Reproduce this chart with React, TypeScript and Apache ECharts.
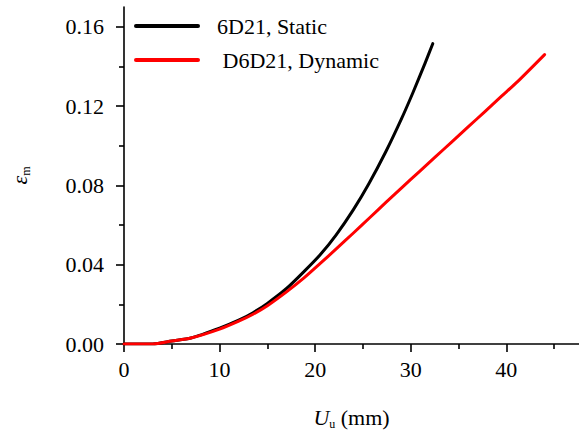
import React, { useEffect, useRef } from "react";
import * as echarts from "echarts";

const seriesNames = ["6D21, Static", " D6D21, Dynamic"];
const seriesColors = ["#000000", "#ff0000"];

const staticU = [0, 3, 5, 7, 10, 12, 13.5, 15, 17, 18.8, 20.5, 22.2, 24, 25.6, 27.4, 29, 30.2, 31.5, 32.3];
const staticE = [0, 0, 0.0015, 0.003, 0.008, 0.012, 0.0158, 0.0205, 0.028, 0.0364, 0.0449, 0.0551, 0.0678, 0.0807, 0.0971, 0.1133, 0.1265, 0.1417, 0.1515];

const dynamicU = [0, 3, 5, 7, 10, 12, 13.5, 15, 17, 18.8, 20.5, 22.2, 24, 25.7, 27.4, 29.1, 30.9, 32.6, 34.3, 36, 37.7, 39.5, 41.2, 44];
const dynamicE = [0, 0, 0.0015, 0.003, 0.0075, 0.0115, 0.015, 0.0193, 0.0263, 0.0332, 0.0405, 0.048, 0.056, 0.0637, 0.0714, 0.079, 0.087, 0.0945, 0.102, 0.1095, 0.117, 0.125, 0.1325, 0.146];

const xTicks = [0, 10, 20, 30, 40];
const xMinorTicks = [5, 15, 25, 35, 45];
const yTicks = [0, 0.04, 0.08, 0.12, 0.16];
const yMinorTicks = [0.02, 0.06, 0.1, 0.14];

const FONT = "Times New Roman, Liberation Serif, DejaVu Serif, serif";

export default function App() {
  const ref = useRef<HTMLDivElement>(null);
  useEffect(() => {
    if (!ref.current) return;
    const chart = echarts.init(ref.current, null, { renderer: "svg" });
    const axisColor = "#000";
    const lineW = 1.6;
    const zip = (xs: number[], ys: number[]) => xs.map((x, i) => [x, ys[i]]);
    const xMax = 47.6;
    const yMax = 0.17;
    const option: any = {
      animation: false,
      backgroundColor: "#fff",
      textStyle: { fontFamily: FONT },
      grid: { left: 118, right: 0, top: 7, bottom: 90 },
      xAxis: [
        {
          type: "value",
          min: 0,
          max: xMax,
          position: "bottom",
          name: "{i|U}{s|u} (mm)",
          nameLocation: "middle",
          nameGap: 60,
          nameTextStyle: {
            fontFamily: FONT,
            fontSize: 22,
            color: "#000",
            rich: {
              i: { fontFamily: FONT, fontSize: 22, fontStyle: "italic", color: "#000" },
              s: { fontFamily: FONT, fontSize: 12, color: "#000", verticalAlign: "bottom", padding: [14, 0, 0, 0] },
            },
          },
          axisLine: { show: true, lineStyle: { color: axisColor, width: lineW } },
          axisTick: { show: true, length: 8, customValues: xTicks, lineStyle: { color: axisColor, width: lineW } },
          axisLabel: {
            customValues: xTicks,
            margin: 14,
            fontFamily: FONT,
            fontSize: 22,
            color: "#000",
            formatter: (v: number) => String(v),
          },
          splitLine: { show: false },
        },
        {
          type: "value",
          min: 0,
          max: xMax,
          position: "bottom",
          axisLine: { show: false },
          axisTick: { show: true, length: 5, customValues: xMinorTicks, lineStyle: { color: axisColor, width: lineW } },
          axisLabel: { show: false },
          splitLine: { show: false },
        },
      ],
      yAxis: [
        {
          type: "value",
          min: 0,
          max: yMax,
          position: "left",
          name: "{e|ε}{s|m}",
          nameLocation: "middle",
          nameRotate: 90,
          nameGap: 92,
          nameTextStyle: {
            fontFamily: FONT,
            fontSize: 22,
            color: "#000",
            rich: {
              e: { fontFamily: FONT, fontSize: 22, fontStyle: "italic", color: "#000" },
              s: { fontFamily: FONT, fontSize: 12, color: "#000", verticalAlign: "bottom", padding: [14, 0, 0, 0] },
            },
          },
          axisLine: { show: true, lineStyle: { color: axisColor, width: lineW } },
          axisTick: { show: true, length: 8, customValues: yTicks, lineStyle: { color: axisColor, width: lineW } },
          axisLabel: {
            customValues: yTicks,
            margin: 20,
            fontFamily: FONT,
            fontSize: 22,
            color: "#000",
            formatter: (v: number) => v.toFixed(2),
          },
          splitLine: { show: false },
        },
        {
          type: "value",
          min: 0,
          max: yMax,
          position: "left",
          axisLine: { show: false },
          axisTick: { show: true, length: 5, customValues: yMinorTicks, lineStyle: { color: axisColor, width: lineW } },
          axisLabel: { show: false },
          splitLine: { show: false },
        },
      ],
      series: [
        {
          name: seriesNames[0],
          type: "line",
          data: zip(staticU, staticE),
          showSymbol: false,
          smooth: 0.25,
          lineStyle: { color: seriesColors[0], width: 3, cap: "round", join: "round" },
          z: 3,
        },
        {
          name: seriesNames[1],
          type: "line",
          data: zip(dynamicU, dynamicE),
          showSymbol: false,
          smooth: 0.25,
          lineStyle: { color: seriesColors[1], width: 3, cap: "round", join: "round" },
          z: 4,
        },
      ],
      graphic: seriesNames.flatMap((name, i) => [
        {
          type: "line",
          shape: { x1: 136, y1: 26 + i * 34, x2: 198, y2: 26 + i * 34 },
          style: { stroke: seriesColors[i], lineWidth: 4, lineCap: "round" },
        },
        {
          type: "text",
          x: 217,
          y: 26 + i * 34,
          style: {
            text: name,
            fontFamily: FONT,
            fontSize: 22,
            fill: "#000",
            verticalAlign: "middle",
            align: "left",
          },
        },
      ]),
    };
    chart.setOption(option);
    return () => chart.dispose();
  }, []);
  return (
    <div
      ref={ref}
      style={{ position: "fixed", left: 0, top: 0, width: 579, height: 435, background: "#fff" }}
    />
  );
}
